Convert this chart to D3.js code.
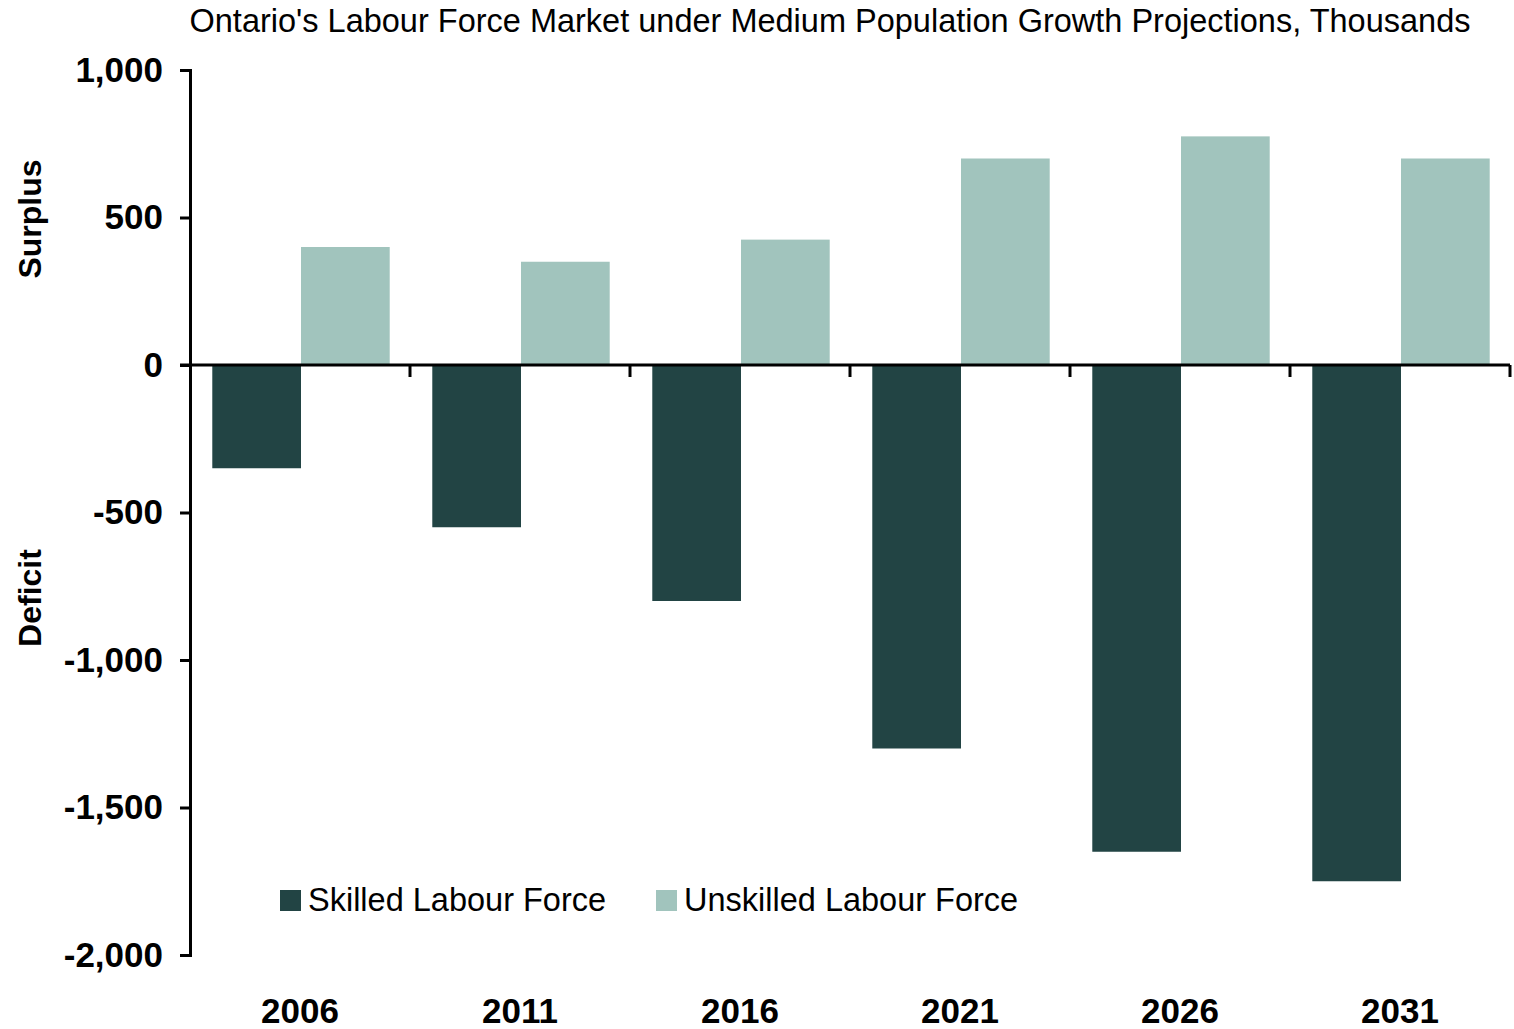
<!DOCTYPE html>
<html>
<head>
<meta charset="utf-8">
<script src="https://cdn.jsdelivr.net/npm/d3@7"></script>
<style>
  body { margin: 0; background: #fff; }
  svg text { font-family: "Liberation Sans", Arial, sans-serif; }
</style>
</head>
<body>
<script>
// Data läst från bilden (tusental)
var years = ["2006", "2011", "2016", "2021", "2026", "2031"];
var skilled = [-350, -550, -800, -1300, -1650, -1750];
var unskilled = [400, 350, 425, 700, 775, 700];
var seriesNames = ["Skilled Labour Force", "Unskilled Labour Force"];
var seriesColors = ["#224444", "#a1c4bd"];
var yTicks = [1000, 500, 0, -500, -1000, -1500, -2000];

var width = 1514, height = 1029;
var plotLeft = 190, plotRight = 1510, plotTop = 70, plotBottom = 955;

var svg = d3.select("body").append("svg")
    .attr("width", width)
    .attr("height", height);

var yScale = d3.scaleLinear()
    .domain([-2000, 1000])
    .range([plotBottom, plotTop]);

// Kategorier
var xScale = d3.scaleBand()
    .domain(years)
    .range([plotLeft, plotRight]);

// Två staplar per år
var inner = d3.scaleBand()
    .domain([0, 1])
    .range([0, xScale.bandwidth()])
    .paddingOuter(0.24)
    .paddingInner(0);

var rows = years.map(function(y, i) { return {year: y, values: [skilled[i], unskilled[i]]}; });

var groups = svg.selectAll("g.year")
    .data(rows)
    .enter()
    .append("g")
    .attr("class", "year")
    .attr("transform", function(d) { return "translate(" + xScale(d.year) + ",0)"; });

groups.selectAll("rect")
    .data(function(d) { return d.values; })
    .enter()
    .append("rect")
    .attr("x", function(d, i) { return inner(i) + 1; })
    .attr("width", inner.bandwidth())
    .attr("y", function(d) { return yScale(Math.max(0, d)); })
    .attr("height", function(d) { return Math.abs(yScale(d) - yScale(0)); })
    .attr("fill", function(d, i) { return seriesColors[i]; });

// Y-axel, bindestreck istället för minustecken
var fmt = d3.format(",");
var yAxis = svg.append("g")
    .attr("transform", "translate(" + plotLeft + ",0)")
    .call(d3.axisLeft(yScale).tickValues(yTicks).tickSize(10).tickSizeOuter(10).tickPadding(17)
        .tickFormat(function(d) { return fmt(d).replace("\u2212", "-"); }));
yAxis.select(".domain").attr("stroke-width", 3);
yAxis.selectAll(".tick line").attr("stroke-width", 3);
yAxis.selectAll("text")
    .attr("font-size", 35)
    .attr("font-weight", "bold")
    .attr("fill", "#000")
    .style("font-family", "Liberation Sans, Arial, sans-serif");

// X-axel vid noll
var xAxis = svg.append("g")
    .attr("transform", "translate(0," + yScale(0) + ")");
xAxis.append("line")
    .attr("x1", plotLeft - 10).attr("x2", plotRight)
    .attr("stroke", "#000").attr("stroke-width", 3);
xAxis.selectAll("line.tk")
    .data(years)
    .enter()
    .append("line")
    .attr("class", "tk")
    .attr("x1", function(d) { return xScale(d) + xScale.bandwidth(); })
    .attr("x2", function(d) { return xScale(d) + xScale.bandwidth(); })
    .attr("y1", 0).attr("y2", 12)
    .attr("stroke", "#000").attr("stroke-width", 3);

// Årtal längst ner
svg.selectAll("text.yearlabel")
    .data(years)
    .enter()
    .append("text")
    .attr("class", "yearlabel")
    .attr("x", function(d) { return xScale(d) + xScale.bandwidth() / 2; })
    .attr("y", 1023)
    .attr("text-anchor", "middle")
    .attr("font-size", 35)
    .attr("font-weight", "bold")
    .text(function(d) { return d; });

// Titel
svg.append("text")
    .attr("x", 830)
    .attr("y", 32)
    .attr("text-anchor", "middle")
    .attr("font-size", 32.5)
    .text("Ontario's Labour Force Market under Medium Population Growth Projections, Thousands");

// Surplus / Deficit
svg.append("text")
    .attr("transform", "translate(41,219) rotate(-90)")
    .attr("text-anchor", "middle")
    .attr("font-size", 32)
    .attr("font-weight", "bold")
    .text("Surplus");
svg.append("text")
    .attr("transform", "translate(41,598) rotate(-90)")
    .attr("text-anchor", "middle")
    .attr("font-size", 32)
    .attr("font-weight", "bold")
    .text("Deficit");

// Legend
var legendX = [280, 656];
var legend = svg.selectAll("g.legend")
    .data(seriesNames)
    .enter()
    .append("g")
    .attr("class", "legend")
    .attr("transform", function(d, i) { return "translate(" + legendX[i] + ",890)"; });
legend.append("rect")
    .attr("width", 21).attr("height", 21)
    .attr("fill", function(d, i) { return seriesColors[i]; });
legend.append("text")
    .attr("x", 28)
    .attr("y", 21)
    .attr("font-size", 32.5)
    .text(function(d) { return d; });
</script>
</body>
</html>
